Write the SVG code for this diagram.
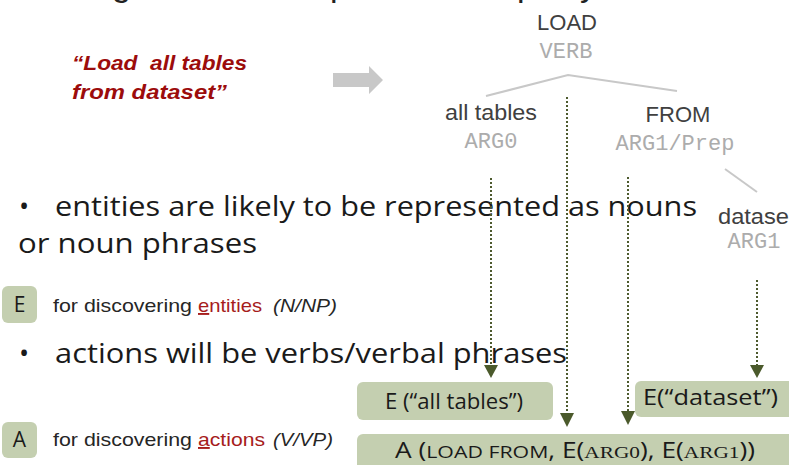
<svg xmlns="http://www.w3.org/2000/svg" width="789" height="465" viewBox="0 0 789 465">
  <style>
    .title { font-family: "Liberation Sans", Arial, sans-serif; font-size: 34px; fill: #222; }
    .quote { font-family: "Liberation Sans", Arial, sans-serif; font-size: 21px; font-weight: bold; font-style: italic; fill: #9c0c0c; white-space: pre; }
    .word { font-family: "Liberation Sans", Arial, sans-serif; font-size: 22px; fill: #404040; text-anchor: middle; }
    .role { font-family: "Liberation Mono", "Courier New", monospace; font-size: 22px; fill: #acacac; text-anchor: middle; }
    .tree { stroke: #c8c8c8; stroke-width: 2; fill: none; }
    .bullet { font-family: "Open Sans", "Noto Sans", sans-serif; font-size: 27px; fill: #1a1a1a; }
    .legend { font-family: "Liberation Sans", Arial, sans-serif; font-size: 19px; fill: #262626; }
    .red { fill: #a61c1c; }
    .box { fill: #c4cfb0; }
    .boxtext { font-family: "Open Sans", "Noto Sans", sans-serif; font-size: 21px; fill: #1a1a1a; }
    .sc { font-size: 17px; }
    .scs { font-family: "Liberation Serif", serif; font-size: 17px; }
    .link { stroke: #4d5a2e; stroke-width: 2; stroke-dasharray: 2 2; fill: none; }
    .head { fill: #4b5a2c; }
  </style>

  <!-- descenders of the slide heading, mostly above the visible area -->
  <g id="heading">
    <text class="title" x="112" y="-4">g</text>
    <text class="title" x="330" y="-4">p</text>
    <text class="title" x="517" y="-4">p</text>
    <text class="title" x="580" y="-4">y</text>
  </g>

  <!-- example sentence -->
  <g id="sentence">
    <text class="quote" x="72" y="70" xml:space="preserve" textLength="175" lengthAdjust="spacingAndGlyphs">“Load  all tables</text>
    <text class="quote" x="72" y="99" textLength="155" lengthAdjust="spacingAndGlyphs">from dataset”</text>
  </g>

  <!-- grey block arrow -->
  <g id="arrow">
    <polygon points="333,73 369,73 369,66 383,80 369,94 369,87 333,87" fill="#c8c8c8"/>
  </g>

  <!-- parse tree -->
  <g id="tree-edges">
    <polyline class="tree" points="486,96 568,75 677,91"/>
    <line class="tree" x1="725" y1="169" x2="757" y2="192"/>
  </g>
  <g id="node-load">
    <text class="word" x="567" y="30">LOAD</text>
    <text class="role" x="566" y="58">VERB</text>
  </g>
  <g id="node-alltables">
    <text class="word" x="491" y="120" textLength="92" lengthAdjust="spacingAndGlyphs">all tables</text>
    <text class="role" x="491" y="148">ARG0</text>
  </g>
  <g id="node-from">
    <text class="word" x="678" y="122">FROM</text>
    <text class="role" x="675" y="150">ARG1/Prep</text>
  </g>
  <g id="node-dataset">
    <text class="word" x="718" y="224" style="text-anchor:start" textLength="71" lengthAdjust="spacingAndGlyphs">datase</text>
    <text class="role" x="754" y="248">ARG1</text>
  </g>

  <!-- bullet points -->
  <g id="bullets">
    <text class="bullet" x="19" y="216">•</text>
    <text class="bullet" x="55" y="216" textLength="642" lengthAdjust="spacingAndGlyphs">entities are likely to be represented as nouns</text>
    <text class="bullet" x="18" y="253" textLength="239" lengthAdjust="spacingAndGlyphs">or noun phrases</text>
    <text class="bullet" x="19" y="363">•</text>
    <text class="bullet" x="55" y="363" textLength="512" lengthAdjust="spacingAndGlyphs">actions will be verbs/verbal phrases</text>
  </g>

  <!-- legend: entities -->
  <g id="legend-e">
    <rect class="box" x="2" y="286" width="35" height="37" rx="6"/>
    <text class="boxtext" x="19.5" y="312" text-anchor="middle">E</text>
    <text class="legend" x="53" y="312" textLength="139" lengthAdjust="spacingAndGlyphs">for discovering</text>
    <text class="legend red" x="198" y="312" textLength="64" lengthAdjust="spacingAndGlyphs"><tspan text-decoration="underline">e</tspan>ntities</text>
    <text class="legend" x="273" y="312" font-style="italic" textLength="64" lengthAdjust="spacingAndGlyphs">(N/NP)</text>
  </g>

  <!-- legend: actions -->
  <g id="legend-a">
    <rect class="box" x="2" y="422" width="35" height="36" rx="6"/>
    <text class="boxtext" x="19.5" y="447" text-anchor="middle">A</text>
    <text class="legend" x="53" y="446" textLength="139" lengthAdjust="spacingAndGlyphs">for discovering</text>
    <text class="legend red" x="198" y="446" textLength="67" lengthAdjust="spacingAndGlyphs"><tspan text-decoration="underline">a</tspan>ctions</text>
    <text class="legend" x="273" y="446" font-style="italic" textLength="60" lengthAdjust="spacingAndGlyphs">(V/VP)</text>
  </g>

  <!-- result boxes -->
  <g id="box-e-alltables">
    <rect class="box" x="357" y="382" width="196" height="38" rx="6"/>
    <text class="boxtext" x="385" y="409" textLength="138" lengthAdjust="spacingAndGlyphs">E (“all tables”)</text>
  </g>
  <g id="box-e-dataset">
    <rect class="box" x="635" y="381" width="170" height="36" rx="6"/>
    <text class="boxtext" x="643" y="405" textLength="135" lengthAdjust="spacingAndGlyphs">E(“dataset”)</text>
  </g>
  <g id="box-a">
    <rect class="box" x="357" y="434" width="450" height="40" rx="6"/>
    <text class="boxtext" x="395" y="458" textLength="360" lengthAdjust="spacingAndGlyphs">A (<tspan class="sc">LOAD FROM</tspan>, E(<tspan class="scs">ARG0</tspan>), E(<tspan class="scs">ARG1</tspan>))</text>
  </g>

  <!-- dotted connectors -->
  <g id="connectors">
    <line class="link" x1="491" y1="178" x2="491" y2="366"/>
    <polygon class="head" points="484,365 498,365 491,378"/>
    <line class="link" x1="567" y1="97" x2="567" y2="414"/>
    <polygon class="head" points="560,413 574,413 567,427"/>
    <line class="link" x1="628" y1="177" x2="628" y2="412"/>
    <polygon class="head" points="621,411 635,411 628,425"/>
    <line class="link" x1="757" y1="280" x2="757" y2="366"/>
    <polygon class="head" points="750,365 764,365 757,378"/>
  </g>
</svg>
